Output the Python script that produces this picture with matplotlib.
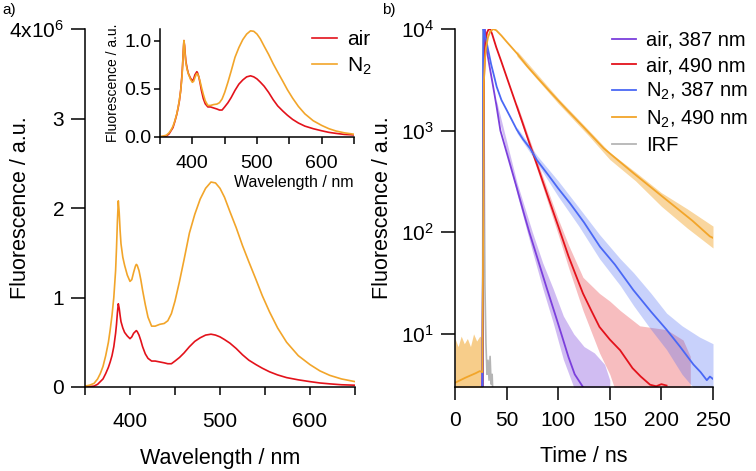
import numpy as np
import matplotlib.pyplot as plt
from matplotlib.ticker import FuncFormatter, MultipleLocator, NullLocator, FixedLocator

plt.rcParams['font.family'] = ['Liberation Sans', 'DejaVu Sans']
plt.rcParams['mathtext.default'] = 'regular'
plt.rcParams['axes.linewidth'] = 1.1

# ===== a) steady-state emission spectra (x1e6) =====
wl = [350, 355, 360, 364, 367, 370, 373, 376, 378, 380, 382, 384, 385, 386, 387, 388, 389, 390, 392, 394,
      397, 400, 402, 404, 406, 407, 408, 410, 412, 414, 417, 420, 424, 428, 433, 438, 442, 446, 450, 455,
      460, 466, 472, 478, 484, 490, 495, 500, 505, 511, 518, 525, 532, 540, 547, 555, 564, 574, 587, 600,
      611, 622, 635, 650]
spec_n2 = [0.01, 0.02, 0.04, 0.09, 0.15, 0.23, 0.35, 0.5, 0.64, 0.8, 1.0, 1.3, 1.55, 1.85, 2.08, 1.95, 1.75, 1.6, 1.45, 1.36,
           1.25, 1.18, 1.2, 1.28, 1.35, 1.37, 1.36, 1.3, 1.2, 1.08, 0.92, 0.78, 0.68, 0.68, 0.7, 0.71, 0.74, 0.82, 0.96, 1.18,
           1.42, 1.72, 1.93, 2.1, 2.22, 2.29, 2.28, 2.22, 2.12, 1.96, 1.78, 1.58, 1.4, 1.2, 1.02, 0.84, 0.66, 0.5, 0.35, 0.25,
           0.18, 0.13, 0.09, 0.06]
spec_air = [0.0, 0.005, 0.01, 0.03, 0.06, 0.09, 0.15, 0.22, 0.28, 0.35, 0.45, 0.6, 0.7, 0.83, 0.93, 0.88, 0.8, 0.73, 0.66, 0.61,
            0.57, 0.54, 0.56, 0.6, 0.62, 0.63, 0.62, 0.58, 0.52, 0.45, 0.37, 0.32, 0.29, 0.29, 0.28, 0.27, 0.26, 0.26, 0.29, 0.33,
            0.38, 0.45, 0.51, 0.55, 0.58, 0.59, 0.58, 0.56, 0.53, 0.49, 0.43, 0.36, 0.3, 0.25, 0.21, 0.17, 0.135, 0.105, 0.08, 0.06,
            0.045, 0.035, 0.025, 0.02]

# ===== b) time-resolved decays (counts) =====
t_p = [26, 27, 28, 29, 31, 34, 37, 40, 44, 52, 60, 67, 72, 80, 89, 97, 103, 110, 116, 124]
fit_p = [2, 30, 3000, 10000, 6000, 4000, 2700, 1800, 1000, 520, 270, 150, 100, 55, 28, 15.6, 10, 5.9, 4.0, 3.0]
band_t_p = [40, 60, 75, 85, 95, 105, 115, 125, 135, 145, 150]
band_hi_p = [2000, 310, 100, 50, 28, 15, 10, 7.5, 6.5, 5, 3.5]
band_lo_p = [1650, 240, 65, 28, 13, 5.6, 3, 2, 2, 2, 2]

t_r = [27, 27.5, 28, 29, 30, 31, 32.5, 34, 36, 40, 45, 50, 55, 60, 65, 70, 75, 80, 90, 100, 110,
       117, 124, 132, 140, 150, 160, 172, 180, 189, 195, 200, 205]
fit_r = [2, 1000, 3000, 6000, 8000, 9200, 9900, 10000, 8900, 6600, 4750, 3380, 2410, 1720, 1230, 870, 620,
         445, 225, 115, 58, 38, 25, 17, 11.7, 8.8, 6.9, 4.6, 3.8, 3.16, 3.05, 3.2, 3.1]
band_t_r = [60, 80, 100, 110, 124, 140, 150, 160, 179, 205, 221, 228]
band_hi_r = [1850, 490, 135, 75, 36, 25, 21, 17, 12, 11, 8.7, 6]
band_lo_r = [1600, 400, 95, 45, 17, 6.5, 4, 2, 2, 2, 2, 2]

t_b = [26.8, 27.2, 27.6, 28.5, 30, 32, 35, 38, 40.4, 45, 50, 53.3, 60, 66, 72.7, 79.2, 90, 100, 111.4,
       125, 140.5, 155, 172.8, 190, 205, 218, 231, 238, 244, 247, 250]
fit_b = [2, 5000, 10000, 9000, 8000, 6300, 4500, 3400, 2700, 2000, 1600, 1380, 1016, 820, 671, 515, 370,
         270, 193, 125, 72, 48, 27, 16.5, 11, 7.5, 5, 4.2, 3.5, 3.8, 3.6]
band_t_b = [60, 80, 100, 120, 140, 160, 173, 190, 205, 220, 237, 250]
band_hi_b = [1080, 560, 320, 175, 95, 55, 40, 25, 16, 12, 9.3, 8]
band_lo_b = [950, 470, 225, 115, 55, 30, 19, 11, 7, 4, 2.5, 2.5]

t_o = [0, 10, 20, 24, 26.5, 27.3, 28, 29, 30, 32, 34, 37, 40, 45, 50, 60, 70, 80, 92, 108, 124,
       144, 173, 205, 230, 247, 250]
fit_o = [3.3, 3.7, 4.1, 4.3, 4.2, 100, 3000, 5000, 6500, 8300, 9400, 10000, 9700, 8600, 7500, 5760, 4300,
         3300, 2420, 1620, 1100, 671, 381, 208, 130, 91, 88]
band_t_o = [0, 3, 6, 9, 12, 15, 18, 21, 24, 26.5]
band_hi_o = [9, 7.5, 9.5, 8, 9, 7.5, 10, 8.5, 9.5, 9]
band_lo_o = [2, 2, 2, 2, 2, 2, 2, 2, 2, 2]
band_t_o2 = [60, 100, 130, 150, 175, 200, 225, 250]
band_hi_o2 = [6100, 2080, 1000, 610, 390, 245, 170, 115]
band_lo_o2 = [5400, 1850, 880, 520, 320, 180, 110, 70]

t_irf = [26, 27, 27.5, 28, 28.5, 29, 30, 31, 32, 33, 34, 35, 36, 37]
irf = [2, 50, 10000, 3000, 200, 30, 8, 4, 5.5, 3.5, 6, 3.2, 4, 2]

c_red = '#e3121b'
c_org = '#f2a52a'
c_pur = '#7b3fdc'
c_blu = '#4a68f5'
c_gry = '#b5b5b5'

fig = plt.figure(figsize=(7.56, 4.71), dpi=100)

# ===== panel a =====
ax = fig.add_axes([85/756, 1-387/471, 270/756, 358/471])
la, = ax.plot(wl, spec_air, color=c_red, lw=1.2)
ln, = ax.plot(wl, spec_n2, color=c_org, lw=1.2)
ax.set_xlim(350, 650)
ax.set_ylim(0, 4)
ax.xaxis.set_major_locator(FixedLocator([400, 500, 600]))
ax.xaxis.set_minor_locator(FixedLocator([350, 450, 550, 650]))
ax.yaxis.set_major_locator(MultipleLocator(1))
ax.yaxis.set_major_formatter(FuncFormatter(lambda v, p: '4x10$^6$' if v == 4 else f'{v:g}'))
for s in ['top', 'right']:
    ax.spines[s].set_visible(False)
ax.tick_params(axis='both', which='both', direction='out', labelsize=15, width=1.1)
ax.tick_params(axis='x', which='major', length=6, pad=12)
ax.tick_params(axis='x', which='minor', length=6)
ax.tick_params(axis='y', length=10, pad=5)
ax.set_xlabel('Wavelength / nm', fontsize=15.5, labelpad=12)
ax.set_ylabel('Fluorescence / a.u.', fontsize=15.5)
ax.yaxis.set_label_coords(-54/270, 0.5)

# inset: normalised at 387 nm
i387 = wl.index(387)
ins = fig.add_axes([160/756, 1-137/471, 194/756, 108/471])
ins.plot(wl, np.array(spec_air) / spec_air[i387], color=c_red, lw=1.2)
ins.plot(wl, np.array(spec_n2) / spec_n2[i387], color=c_org, lw=1.2)
ins.set_xlim(350, 650)
ins.set_ylim(0, 1.12)
ins.xaxis.set_major_locator(FixedLocator([400, 500, 600]))
ins.xaxis.set_minor_locator(FixedLocator([350, 450, 550, 650]))
ins.yaxis.set_major_locator(FixedLocator([0, 0.5, 1.0]))
ins.yaxis.set_major_formatter(FuncFormatter(lambda v, p: f'{v:.1f}'))
for s in ['top', 'right']:
    ins.spines[s].set_visible(False)
ins.tick_params(axis='both', which='both', direction='out', labelsize=14, width=1.1)
ins.tick_params(axis='x', which='both', length=5, pad=8)
ins.tick_params(axis='y', length=4, pad=2)
ins.set_xlabel('Wavelength / nm', fontsize=11.5, labelpad=2, loc='right')
ins.set_ylabel('Fluorescence / a.u.', fontsize=10, labelpad=3)

fig.legend([la, ln], ['air', 'N$_2$'], loc='upper left', bbox_to_anchor=(312/756, 1-30/471),
           frameon=False, fontsize=15, handlelength=1.2,
           handletextpad=0.5, borderpad=0, borderaxespad=0, labelspacing=0.3)

# ===== panel b =====
bx = fig.add_axes([455/756, 1-387/471, 258/756, 358/471])
bx.fill_between(band_t_p, band_lo_p, band_hi_p, color=c_pur, alpha=0.35, lw=0)
bx.fill_between(band_t_r, band_lo_r, band_hi_r, color=c_red, alpha=0.28, lw=0)
bx.fill_between(band_t_b, band_lo_b, band_hi_b, color=c_blu, alpha=0.3, lw=0)
bx.fill_between(band_t_o, band_lo_o, band_hi_o, color=c_org, alpha=0.55, lw=0)
bx.fill_between(band_t_o2, band_lo_o2, band_hi_o2, color=c_org, alpha=0.45, lw=0)
bx.plot(t_irf, irf, color=c_gry, lw=1.2)
bx.plot(t_p, fit_p, color=c_pur, lw=1.3, label='air, 387 nm')
bx.plot(t_r, fit_r, color=c_red, lw=1.3, label='air, 490 nm')
bx.plot(t_b, fit_b, color=c_blu, lw=1.3, label='N$_2$, 387 nm')
bx.plot(t_o, fit_o, color=c_org, lw=1.3, label='N$_2$, 490 nm')
bx.plot([], [], color=c_gry, lw=1.3, label='IRF')
bx.set_yscale('log')
bx.set_xlim(0, 250)
bx.set_ylim(3, 1e4)
bx.yaxis.set_minor_locator(NullLocator())
bx.xaxis.set_major_locator(MultipleLocator(50))
for s in ['top', 'right']:
    bx.spines[s].set_visible(False)
bx.tick_params(axis='both', which='both', direction='out', labelsize=15, width=1.1)
bx.tick_params(axis='x', length=9, pad=8)
bx.tick_params(axis='y', length=10, pad=5)
bx.set_xlabel('Time / ns', fontsize=15.5, labelpad=12)
bx.set_ylabel('Fluorescence / a.u.', fontsize=15.5)
bx.yaxis.set_label_coords(-62/258, 0.5)
bx.legend(loc='upper left', bbox_to_anchor=(612/756, 1-31/471),
          bbox_transform=fig.transFigure, frameon=False, fontsize=14.5, handlelength=1.2,
          handletextpad=0.5, borderpad=0, borderaxespad=0, labelspacing=0.3)

fig.text(2/756, 1-10/471, 'a)', fontsize=11, va='center', ha='left')
fig.text(382/756, 1-10/471, 'b)', fontsize=11, va='center', ha='left')

fig.savefig('out.png', dpi=100)
